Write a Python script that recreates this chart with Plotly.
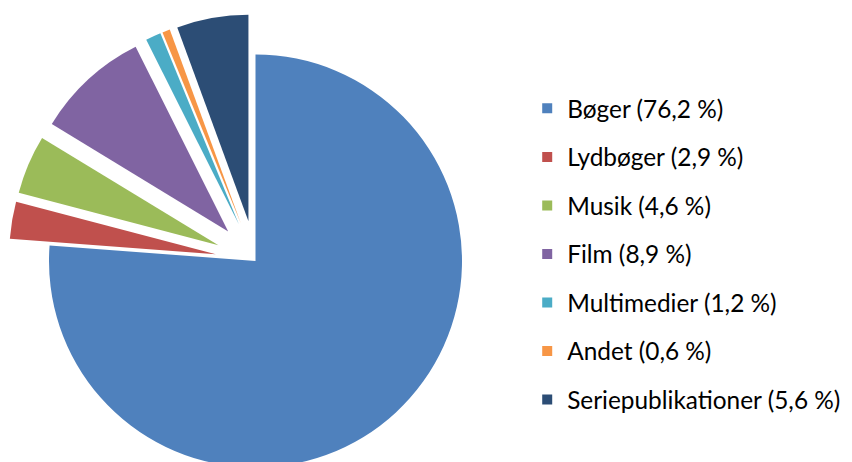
import math
import plotly.graph_objects as go

# ---- data ----
categories = ["Bøger", "Lydbøger", "Musik", "Film", "Multimedier", "Andet", "Seriepublikationer"]
values = [76.2, 2.9, 4.6, 8.9, 1.2, 0.6, 5.6]
colors = ["#4F81BD", "#C0504D", "#9BBB59", "#8064A2", "#4BACC6", "#F79646", "#2C4D75"]

# ---- layout / style constants ----
W, H = 852, 462
CX, CY, R = 247.5, 253.0, 206.5   # pie centre and radius in pixels
EXPLODE = 0.195                   # explosion of every slice but the first, fraction of R

total = sum(values)
fig = go.Figure()

cum = 0.0
for i, (lab, v, c) in enumerate(zip(categories, values, colors)):
    mid = (cum + v / 2.0) / total * 2 * math.pi
    cum += v
    d = 0.0 if i == 0 else EXPLODE * R
    cx = CX + d * math.sin(mid)
    cy = CY - d * math.cos(mid)
    dom_x = [max(0.0, (cx - R) / W), min(1.0, (cx + R) / W)]
    dom_y = [max(0.0, 1 - (cy + R) / H), min(1.0, 1 - (cy - R) / H)]
    slice_colors = [c if j == i else "rgba(0,0,0,0)" for j in range(len(values))]
    fig.add_trace(go.Pie(
        labels=categories, values=values, sort=False,
        direction="clockwise", rotation=0,
        marker=dict(colors=slice_colors, line=dict(width=0)),
        textinfo="none", hoverinfo="skip", showlegend=False,
        domain=dict(x=dom_x, y=dom_y),
    ))

# legend entries
for lab, v, c in zip(categories, values, colors):
    fig.add_trace(go.Scatter(
        x=[None], y=[None], mode="markers",
        marker=dict(symbol="square", size=10, color=c),
        name=f"{lab} ({v:.1f} %)".replace(".", ","),
        legendgroup=lab, hoverinfo="skip",
    ))

fig.update_layout(
    width=W, height=H,
    margin=dict(l=0, r=0, t=0, b=0),
    paper_bgcolor="white", plot_bgcolor="white",
    xaxis=dict(visible=False), yaxis=dict(visible=False),
    showlegend=True,
    legend=dict(
        x=0.6094, xanchor="left", y=1 - 78 / H, yanchor="top",
        font=dict(family="Lato", size=24.4, color="#000000"),
        traceorder="grouped", tracegroupgap=13.8,
        bgcolor="rgba(0,0,0,0)", borderwidth=0,
    ),
)

fig.write_html("out.html")
